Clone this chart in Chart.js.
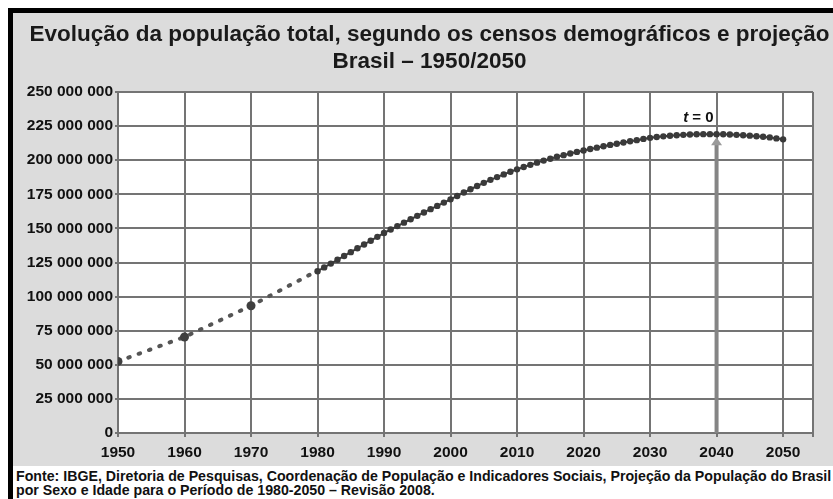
<!DOCTYPE html>
<html>
<head>
<meta charset="utf-8">
<script src="https://cdn.jsdelivr.net/npm/chart.js@4/dist/chart.umd.min.js"></script>
<style>
  html, body { margin: 0; padding: 0; background: #fff; overflow: hidden; }
  body { width: 833px; height: 499px; position: relative; }
  #frame { position: absolute; left: 8px; top: 8px; width: 840px; height: 500px;
           border-left: 5px solid #000; border-top: 5px solid #000; }
  #wrap { position: absolute; left: 13px; top: 13px; width: 833px; height: 453px; background: #dcdcdc; }
  #footer { position: absolute; left: 16px; top: 469px; font: bold 14.2px "Liberation Sans", Arial, sans-serif;
            line-height: 14px; color: #111; white-space: nowrap; }
</style>
</head>
<body>
<div id="frame"></div>
<div id="wrap"><canvas id="chart" width="833" height="453"></canvas></div>
<div id="footer">Fonte: IBGE, Diretoria de Pesquisas, Coordenação de População e Indicadores Sociais, Projeção da População do Brasil<br>por Sexo e Idade para o Período de 1980-2050 – Revisão 2008.</div>
<script>
'use strict';

// censos (milhões)
var censusYears = [1950, 1960, 1970, 1980];
var censusPop = [52.5, 70.4, 93.3, 119.0];

// projeção anual (milhões)
var projYears = [1980, 1981, 1982, 1983, 1984, 1985, 1986, 1987, 1988, 1989,
  1990, 1991, 1992, 1993, 1994, 1995, 1996, 1997, 1998, 1999,
  2000, 2001, 2002, 2003, 2004, 2005, 2006, 2007, 2008, 2009,
  2010, 2011, 2012, 2013, 2014, 2015, 2016, 2017, 2018, 2019,
  2020, 2021, 2022, 2023, 2024, 2025, 2026, 2027, 2028, 2029,
  2030, 2031, 2032, 2033, 2034, 2035, 2036, 2037, 2038, 2039,
  2040, 2041, 2042, 2043, 2044, 2045, 2046, 2047, 2048, 2049, 2050];
var projPop = [118.6, 121.4, 124.2, 127.0, 129.8, 132.6, 135.4, 138.2, 141.0, 143.8,
  146.6, 149.2, 151.7, 154.2, 156.7, 159.2, 161.7, 164.1, 166.5, 168.9,
  171.3, 173.8, 176.3, 178.7, 181.1, 183.4, 185.6, 187.6, 189.6, 191.5,
  193.3, 195.0, 196.6, 198.2, 199.7, 201.1, 202.5, 203.7, 204.9, 206.1,
  207.1, 208.2, 209.2, 210.2, 211.2, 212.1, 213.0, 213.9, 214.7, 215.6,
  216.4, 217.0, 217.5, 217.9, 218.3, 218.6, 218.8, 219.0, 219.1, 219.1,
  219.1, 219.0, 218.8, 218.6, 218.3, 218.0, 217.6, 217.2, 216.7, 216.0, 215.3];

var xTicks = [1950, 1960, 1970, 1980, 1990, 2000, 2010, 2020, 2030, 2040, 2050];
var yTicks = [0, 25, 50, 75, 100, 125, 150, 175, 200, 225, 250];
var xMax = 2054.5;
var markYear = 2040;
var markLabel = 't = 0';

var titleLines = ['Evolução da população total, segundo os censos demográficos e projeção', 'Brasil – 1950/2050'];

function toPoints(xs, ys) {
  var pts = [];
  for (var i = 0; i < xs.length; i++) {
    pts.push({x: xs[i], y: ys[i]});
  }
  return pts;
}

function fmt(v) {
  return String(Math.round(v * 1000000)).replace(/\B(?=(\d{3})+(?!\d))/g, ' ');
}

var font = '"Liberation Sans", Arial, sans-serif';
var gridColor = '#747474';

var bgPlugin = {
  id: 'plotBg',
  beforeDraw: function (chart) {
    var a = chart.chartArea, c = chart.ctx;
    c.save();
    c.fillStyle = '#ffffff';
    c.fillRect(a.left, a.top, a.right - a.left, a.bottom - a.top);
    c.restore();
  }
};

var markPlugin = {
  id: 'mark',
  beforeDatasetsDraw: function (chart) {
    var c = chart.ctx, xs = chart.scales.x, ys = chart.scales.y;
    var idx = projYears.indexOf(markYear);
    var x = xs.getPixelForValue(markYear);
    var yv = ys.getPixelForValue(projPop[idx]);
    var tip = yv + 3;
    c.save();
    c.strokeStyle = '#858585';
    c.lineWidth = 4;
    c.beginPath();
    c.moveTo(x, ys.getPixelForValue(0));
    c.lineTo(x, tip + 7);
    c.stroke();
    c.fillStyle = '#9a9a9a';
    c.beginPath();
    c.moveTo(x, tip);
    c.lineTo(x - 5.5, tip + 8);
    c.lineTo(x + 5.5, tip + 8);
    c.closePath();
    c.fill();
    c.restore();
  },
  afterDatasetsDraw: function (chart) {
    var c = chart.ctx, xs = chart.scales.x, ys = chart.scales.y;
    var idx = projYears.indexOf(markYear);
    var x = xs.getPixelForValue(markYear) - 3;
    var y = ys.getPixelForValue(projPop[idx]) - 16;
    c.save();
    c.fillStyle = '#111';
    c.textBaseline = 'middle';
    c.textAlign = 'left';
    var rest = markLabel.slice(1);
    c.font = 'bold 15px ' + font;
    var wRest = c.measureText(rest).width;
    c.font = 'italic bold 15px ' + font;
    var wT = c.measureText(markLabel[0]).width;
    c.fillText(markLabel[0], x - wRest - wT, y);
    c.font = 'bold 15px ' + font;
    c.fillText(rest, x - wRest, y);
    c.restore();
  }
};

var chart = new Chart(document.getElementById('chart').getContext('2d'), {
  type: 'line',
  data: {
    datasets: [{
      label: 'Censos',
      data: toPoints(censusYears, censusPop),
      borderColor: '#555555',
      borderWidth: 4,
      borderDash: [1.5, 9.5],
      borderCapStyle: 'round',
      pointRadius: [4.5, 4.5, 4.5, 0],
      pointBackgroundColor: '#3f3f3f',
      pointBorderWidth: 0,
      tension: 0
    }, {
      label: 'Projeção',
      data: toPoints(projYears, projPop),
      borderColor: '#3a3a3a',
      borderWidth: 2,
      pointRadius: 3.2,
      pointBackgroundColor: '#3a3a3a',
      pointBorderWidth: 0,
      tension: 0
    }]
  },
  options: {
    responsive: false,
    animation: false,
    events: [],
    layout: { padding: { left: 0, right: 0, top: 0, bottom: 4.5 } },
    plugins: {
      legend: { display: false },
      tooltip: { enabled: false },
      title: {
        display: true,
        text: titleLines,
        color: '#1a1a1a',
        font: { family: font, size: 22.5, weight: 'bold', lineHeight: 1.2 },
        padding: { top: 8.5, bottom: 16.5 }
      }
    },
    scales: {
      x: {
        type: 'linear',
        min: xTicks[0],
        max: xMax,
        afterFit: function (s) { s.height = 28.5; },
        afterBuildTicks: function (s) {
          s.ticks = xTicks.map(function (v) { return {value: v}; }).concat([{value: xMax}]);
        },
        ticks: {
          autoSkip: false,
          maxRotation: 0,
          padding: 6.5,
          color: '#111',
          font: { family: font, size: 15.5, weight: 'bold' },
          callback: function (v) { return xTicks.indexOf(v) >= 0 ? String(v) : ''; }
        },
        grid: { color: gridColor, lineWidth: 2, tickLength: 4 },
        border: { color: gridColor, width: 2 }
      },
      y: {
        min: yTicks[0],
        max: yTicks[yTicks.length - 1],
        afterFit: function (s) { s.width = 105; },
        afterBuildTicks: function (s) {
          s.ticks = yTicks.map(function (v) { return {value: v}; });
        },
        ticks: {
          padding: 2,
          color: '#111',
          font: { family: font, size: 15.5, weight: 'bold' },
          callback: function (v) { return fmt(v); }
        },
        grid: { color: gridColor, lineWidth: 2, tickLength: 3 },
        border: { color: gridColor, width: 2 }
      },
      yr: {
        position: 'right',
        display: true,
        afterFit: function (s) { s.width = 33; },
        ticks: { display: false },
        grid: { display: false },
        border: { display: false }
      }
    }
  },
  plugins: [bgPlugin, markPlugin]
});
</script>
</body>
</html>
